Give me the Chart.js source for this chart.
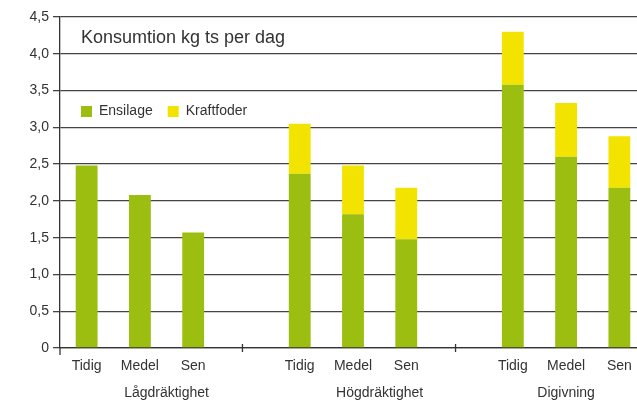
<!DOCTYPE html>
<html><head><meta charset="utf-8">
<script src="https://cdn.jsdelivr.net/npm/chart.js@4"></script>
<style>
html,body{margin:0;padding:0;background:#fff;overflow:hidden;width:637px;height:401px}
#wrap{width:646px;height:401px;position:relative}
</style>
</head><body><div id="wrap"><canvas id="c"></canvas></div>
<script>
// ---- data ----
const categories = ['Tidig','Medel','Sen','','Tidig','Medel','Sen','','Tidig','Medel','Sen'];
const groups = ['Lågdräktighet','Högdräktighet','Digivning'];
const groupLabelPos = [1.5, 5.5, 9];
const ensilage = [2.48, 2.08, 1.57, null, 2.37, 1.82, 1.48, null, 3.58, 2.60, 2.18];
const kraftfoder = [null, null, null, null, 0.68, 0.66, 0.70, null, 0.72, 0.73, 0.70];
const yTicks = [0, 0.5, 1, 1.5, 2, 2.5, 3, 3.5, 4, 4.5];
const yTickLabels = ['0','0,5','1,0','1,5','2,0','2,5','3,0','3,5','4,0','4,5'];
const seriesNames = ['Ensilage','Kraftfoder'];
const chartTitle = 'Konsumtion kg ts per dag';

const GREEN = '#9bbe10', YELLOW = '#f2e400', INK = '#333333', GRID = '#444444';

Chart.defaults.font.family = '"Liberation Sans", Arial, Helvetica, sans-serif';
Chart.defaults.font.size = 14;
Chart.defaults.color = INK;

const decor = {
  id: 'decor',
  afterDraw(chart) {
    const {ctx, chartArea: a, scales} = chart;
    const xs = scales.x;
    ctx.save();
    ctx.strokeStyle = INK;
    ctx.lineWidth = 1.3;
    // y axis extension below the baseline
    ctx.beginPath();
    ctx.moveTo(a.left, a.bottom);
    ctx.lineTo(a.left, a.bottom + 7);
    ctx.stroke();
    // group separators at empty categories
    categories.forEach((c, i) => {
      if (c === '') {
        const x = xs.getPixelForValue(i) - 4;
        ctx.beginPath();
        ctx.moveTo(x, a.bottom - 4);
        ctx.lineTo(x, a.bottom + 4);
        ctx.stroke();
      }
    });
    // title inside plot
    ctx.fillStyle = INK;
    ctx.textBaseline = 'middle';
    ctx.textAlign = 'left';
    ctx.font = '18px "Liberation Sans", Arial, sans-serif';
    ctx.fillText(chartTitle, a.left + 21, a.top + 21);
    // legend inside plot
    ctx.font = '14px "Liberation Sans", Arial, sans-serif';
    let x = a.left + 21;
    const y = a.top + 94.5;
    chart.data.datasets.forEach(ds => {
      ctx.fillStyle = ds.backgroundColor;
      ctx.fillRect(x, y - 5.5, 11, 11);
      ctx.fillStyle = INK;
      ctx.fillText(ds.label, x + 18, y);
      x += 18 + ctx.measureText(ds.label).width + 15;
    });
    ctx.restore();
  }
};

new Chart(document.getElementById('c'), {
  type: 'bar',
  data: {
    labels: categories,
    datasets: [
      {label: seriesNames[0], data: ensilage, backgroundColor: GREEN, xAxisID: 'x', stack: 's'},
      {label: seriesNames[1], data: kraftfoder, backgroundColor: YELLOW, xAxisID: 'x', stack: 's'}
    ]
  },
  options: {
    responsive: true,
    maintainAspectRatio: false,
    animation: false,
    layout: {padding: {top: 17, left: 0, right: 0, bottom: 0}},
    plugins: {legend: {display: false}, tooltip: {enabled: false}, title: {display: false}},
    datasets: {bar: {categoryPercentage: 0.41, barPercentage: 1}},
    scales: {
      x: {
        type: 'category',
        stacked: true,
        offset: true,
        weight: 0,
        grid: {display: false, drawTicks: false},
        border: {display: true, color: INK, width: 1.3},
        ticks: {padding: 10, maxRotation: 0, autoSkip: false, color: INK, font: {size: 14}},
        afterFit(s) { s.height = 28; }
      },
      x2: {
        type: 'linear',
        position: 'bottom',
        offset: false,
        bounds: 'data',
        min: -0.5, max: 10.5,
        weight: 1,
        grid: {display: false, drawTicks: false, offset: false},
        border: {display: false},
        afterBuildTicks(s) { s.ticks = groupLabelPos.map(v => ({value: v})); },
        ticks: {padding: 9, maxRotation: 0, autoSkip: false, color: INK, font: {size: 14},
          callback: (v, i) => groups[i]},
        afterFit(s) { s.height = 25; }
      },
      y: {
        stacked: true,
        min: 0, max: 4.5,
        afterBuildTicks(s) { s.ticks = yTicks.map(v => ({value: v})); },
        ticks: {padding: 4, color: INK, font: {size: 14}, callback: (v, i) => yTickLabels[i]},
        grid: {color: GRID, lineWidth: 1.3, tickLength: 7, drawTicks: true},
        border: {display: true, color: INK, width: 1.3},
        afterFit(s) { s.width = 60; }
      }
    }
  },
  plugins: [decor]
});
</script>
</body></html>
